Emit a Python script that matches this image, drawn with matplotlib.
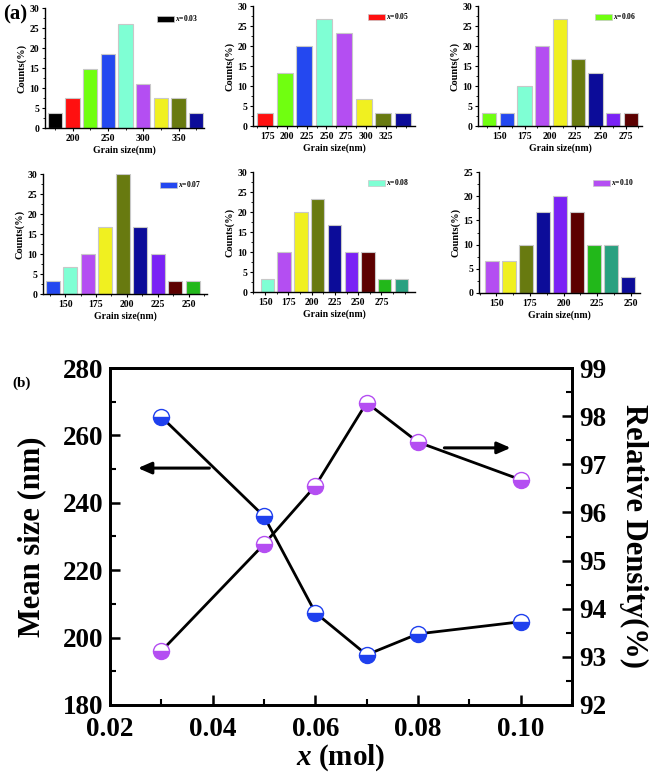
import matplotlib
matplotlib.use('Agg')
import matplotlib.pyplot as plt
from matplotlib.ticker import MultipleLocator, FixedLocator
from matplotlib.patches import Patch

plt.rcParams['font.family'] = ['Liberation Serif', 'DejaVu Serif']
plt.rcParams['font.weight'] = 'bold'
plt.rcParams['mathtext.fontset'] = 'custom'
plt.rcParams['mathtext.it'] = 'Liberation Serif:italic:bold'
plt.rcParams['mathtext.rm'] = 'Liberation Serif:bold'

# ---------------- data: grain size histograms ----------------
panel_names = ['0.03', '0.05', '0.06', '0.07', '0.08', '0.10']

centers_003 = [175, 200, 225, 250, 275, 300, 325, 350, 375]
counts_003 = [3.7, 7.4, 14.8, 18.5, 25.9, 11.1, 7.4, 7.4, 3.7]
ticks_003 = [200, 250, 300, 350]

centers_005 = [172, 197, 222, 247, 272, 297, 322, 347]
counts_005 = [3.3, 13.3, 20.0, 26.7, 23.3, 6.7, 3.3, 3.3]
ticks_005 = [175, 200, 225, 250, 275, 300, 325]

centers_006 = [140, 157.5, 175, 192.5, 210, 227.5, 245, 262.5, 280]
counts_006 = [3.3, 3.3, 10.0, 20.0, 26.7, 16.7, 13.3, 3.3, 3.3]
ticks_006 = [150, 175, 200, 225, 250, 275]

centers_007 = [140, 154.2, 168.4, 182.6, 196.8, 211, 225.2, 239.4, 253.6]
counts_007 = [3.3, 6.7, 10.0, 16.7, 30.0, 16.7, 10.0, 3.3, 3.3]
ticks_007 = [150, 175, 200, 225, 250]

centers_008 = [152.5, 170.5, 188.5, 206.5, 224.5, 242.5, 260.5, 278.5, 296.5]
counts_008 = [3.3, 10.0, 20.0, 23.3, 16.7, 10.0, 10.0, 3.3, 3.3]
ticks_008 = [150, 175, 200, 225, 250, 275]

centers_010 = [146.5, 159.2, 171.9, 184.6, 197.3, 210, 222.7, 235.4, 248.1]
counts_010 = [6.7, 6.7, 10.0, 16.7, 20.0, 16.7, 10.0, 10.0, 3.3]
ticks_010 = [150, 175, 200, 225, 250]

# ---------------- data: mean size & relative density ----------------
x_mol = [0.03, 0.05, 0.06, 0.07, 0.08, 0.10]
mean_size = [265.5, 236.0, 207.4, 194.9, 201.1, 204.7]
rel_density = [93.12, 95.34, 96.55, 98.28, 97.46, 96.68]

# ---------------- styles ----------------
BLK, RED, LIME, BLU, AQU, PUR = '#000000', '#ff1010', '#70ff10', '#2448f0', '#7fffd4', '#b44ef2'
YEL, OLV, NAV, VIO, MAR, GRN, TEA = '#f0f020', '#687a10', '#0c0c99', '#7a22f5', '#5c0000', '#22b81a', '#2aa080'
colors_003 = [BLK, RED, LIME, BLU, AQU, PUR, YEL, OLV, NAV]
colors_005 = [RED, LIME, BLU, AQU, PUR, YEL, OLV, NAV]
colors_006 = [LIME, BLU, AQU, PUR, YEL, OLV, NAV, VIO, MAR]
colors_007 = [BLU, AQU, PUR, YEL, OLV, NAV, VIO, MAR, GRN]
colors_008 = [AQU, PUR, YEL, OLV, NAV, VIO, MAR, GRN, TEA]
colors_010 = [PUR, YEL, OLV, NAV, VIO, MAR, GRN, TEA, NAV]

W, H = 661, 780


def px(l, t, r, b):
    return [l / W, 1 - b / H, (r - l) / W, (b - t) / H]


fig = plt.figure(figsize=(W / 100, H / 100), dpi=100)

panels = [
    (centers_003, counts_003, colors_003, ticks_003, (161, 386), 30, px(45, 8, 204, 128)),
    (centers_005, counts_005, colors_005, ticks_005, (157, 362), 30, px(253, 6, 415, 126)),
    (centers_006, counts_006, colors_006, ticks_006, (129, 291), 30, px(478, 6, 642, 126)),
    (centers_007, counts_007, colors_007, ticks_007, (132, 265), 30, px(43, 174, 207, 294)),
    (centers_008, counts_008, colors_008, ticks_008, (137, 311), 30, px(253, 172, 415, 292)),
    (centers_010, counts_010, colors_010, ticks_010, (137, 257), 25, px(479, 172, 640, 293)),
]

for i, (cen, cnt, cols, tks, xl, ymax, rect) in enumerate(panels):
    ax = fig.add_axes(rect)
    step = cen[1] - cen[0]
    ax.bar(cen, cnt, width=step * 0.8, color=cols, edgecolor='#c8c8c8', linewidth=0.8)
    ax.set_xlim(*xl)
    ax.set_ylim(0, ymax)
    ax.xaxis.set_major_locator(FixedLocator(tks))
    ax.xaxis.set_minor_locator(MultipleLocator((tks[1] - tks[0]) / 2))
    ax.yaxis.set_major_locator(MultipleLocator(5))
    ax.yaxis.set_minor_locator(MultipleLocator(2.5))
    for s in ['top', 'right']:
        ax.spines[s].set_visible(False)
    for s in ['left', 'bottom']:
        ax.spines[s].set_linewidth(1.0)
    ax.tick_params(which='major', direction='out', length=2.5, width=0.8,
                   labelsize=7, pad=1.5)
    ax.tick_params(which='minor', direction='out', length=1.5, width=0.6)
    for lab in ax.get_xticklabels() + ax.get_yticklabels():
        lab.set_fontweight('bold')
    ax.set_ylabel('Counts(%)', fontsize=7.5, fontweight='bold', labelpad=2)
    ax.set_xlabel('Grain size(nm)', fontsize=7, fontweight='bold', labelpad=2)
    handle = Patch(facecolor=cols[0], edgecolor='#c8c8c8', linewidth=0.5)
    ax.legend([handle], ['$x$=' + panel_names[i]], loc='upper right',
              frameon=False, fontsize=5.5, handlelength=2.2, handleheight=0.9,
              handletextpad=0.2, borderaxespad=0.3,
              bbox_to_anchor=(1.0, 1.0))

fig.text(3 / W, 1 - 14 / H, '(a)', fontsize=15, fontweight='bold', va='center')

# ---------------- bottom plot ----------------
ax = fig.add_axes(px(110, 368, 572, 705))
blue = '#1f40ee'
purple = '#b44ef2'
ax.plot(x_mol, mean_size, '-', color='black', lw=2, marker='o', ms=11.5,
        fillstyle='bottom', markerfacecolor=blue, markerfacecoloralt='white',
        markeredgecolor=blue, markeredgewidth=1.0, zorder=3)
ax.set_xlim(0.02, 0.11)
ax.set_ylim(180, 280)
ax.xaxis.set_major_locator(MultipleLocator(0.02))
ax.xaxis.set_minor_locator(MultipleLocator(0.01))
ax.yaxis.set_major_locator(MultipleLocator(20))
ax.yaxis.set_minor_locator(MultipleLocator(10))
ax.set_xticks([0.02, 0.04, 0.06, 0.08, 0.10])
ax.set_xticklabels(['0.02', '0.04', '0.06', '0.08', '0.10'])

ax2 = ax.twinx()
ax2.plot(x_mol, rel_density, '-', color='black', lw=2, marker='o', ms=11.5,
         fillstyle='bottom', markerfacecolor=purple, markerfacecoloralt='white',
         markeredgecolor=purple, markeredgewidth=1.0, zorder=3)
ax2.set_ylim(92, 99)
ax2.yaxis.set_major_locator(MultipleLocator(1))
ax2.yaxis.set_minor_locator(MultipleLocator(0.5))

for a in (ax, ax2):
    for s in a.spines.values():
        s.set_linewidth(2)
    a.tick_params(which='major', direction='in', length=7, width=1.8,
                  labelsize=19.5, pad=5)
    a.tick_params(which='minor', direction='in', length=4, width=1.5)
    for lab in a.get_xticklabels() + a.get_yticklabels():
        lab.set_fontweight('bold')
ax2.tick_params(axis='x', which='both', top=False)
ax.tick_params(axis='x', which='both', top=False)
ax.tick_params(axis='x', which='major', pad=9)

ax.set_ylabel('Mean size (nm)', fontsize=22, fontweight='bold', labelpad=12)
ax.set_xlabel('$x$ (mol)', fontsize=21, fontweight='bold', labelpad=0)
ax2.set_ylabel('Relative Density(%)', fontsize=22, fontweight='bold',
               rotation=270, labelpad=30)

ax.annotate('', xy=(0.0249, 250.3), xytext=(0.0399, 250.3),
            arrowprops=dict(arrowstyle='-|>,head_length=0.8,head_width=0.35',
                            color='black', lw=2.2))
ax.annotate('', xy=(0.0986, 256.3), xytext=(0.0846, 256.3),
            arrowprops=dict(arrowstyle='-|>,head_length=0.8,head_width=0.35',
                            color='black', lw=2.2))

fig.text(12 / W, 1 - 383 / H, '(b)', fontsize=11, fontweight='bold', va='center')

fig.savefig('out.png', dpi=100)
